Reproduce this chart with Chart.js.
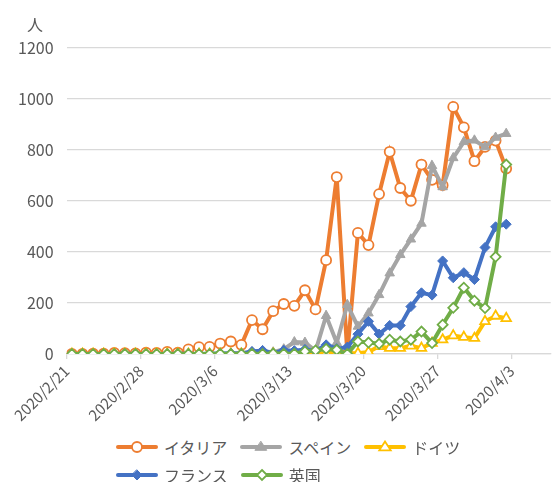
<!DOCTYPE html>
<html lang="ja">
<head>
<meta charset="utf-8">
<title>新型コロナウイルス 国別の新規死亡者数</title>
<script src="https://cdn.jsdelivr.net/npm/chart.js@4/dist/chart.umd.min.js"></script>
<style>
  html, body { margin: 0; padding: 0; background: #ffffff; }
  #wrap { position: relative; width: 558px; height: 482px; overflow: hidden; }
  #plot { position: absolute; left: 0; top: 0; width: 558px; height: 430px; }
  #legend {
    position: absolute; left: 116px; top: 433px; width: 380px;
    font-family: "Noto Sans CJK JP", "Noto Sans", sans-serif; font-size: 16px; color: #595959;
  }
  #legend .rows { display: flex; flex-wrap: wrap; width: 360px; }
  #legend .item { display: flex; align-items: center; height: 28px; margin-right: 13px; }
  #legend canvas { display: block; margin-right: 6px; }
</style>
</head>
<body>
<div id="wrap">
  <div id="plot"><canvas id="chart"></canvas></div>
  <div id="legend"><div class="rows"></div></div>
</div>
<script>
// Dates of each daily report (one cell per day on the date axis)
const days = [
  '2020/2/21','2020/2/22','2020/2/23','2020/2/24','2020/2/25','2020/2/26','2020/2/27',
  '2020/2/28','2020/2/29','2020/3/1','2020/3/2','2020/3/3','2020/3/4','2020/3/5',
  '2020/3/6','2020/3/7','2020/3/8','2020/3/9','2020/3/10','2020/3/11','2020/3/12',
  '2020/3/13','2020/3/14','2020/3/15','2020/3/16','2020/3/17','2020/3/18','2020/3/19',
  '2020/3/20','2020/3/21','2020/3/22','2020/3/23','2020/3/24','2020/3/25','2020/3/26',
  '2020/3/27','2020/3/28','2020/3/29','2020/3/30','2020/3/31','2020/4/1','2020/4/2'
];

// Weekly labels on the date axis
const weekLabels = ['2020/2/21','2020/2/28','2020/3/6','2020/3/13','2020/3/20','2020/3/27','2020/4/3'];

// New deaths per day (人)
const italy = [
  0, 0, 1, 1, 4, 3, 2, 5, 4, 8, 5, 18, 27, 28, 41, 49, 36, 133, 97, 168, 196,
  189, 250, 175, 368, 694, 0, 475, 427, 627, 793, 651, 601, 743, 683, 662, 969,
  889, 756, 812, 837, 727
];
const spain = [
  0, 0, 0, 0, 0, 0, 0, 0, 0, 0, 0, 0, 0, 1, 1, 2, 5, 7, 11, 7, 19,
  47, 45, 12, 150, 44, 193, 108, 160, 232, 317, 389, 450, 512, 738, 655, 769,
  832, 838, 812, 849, 864
];
const germany = [
  0, 0, 0, 0, 0, 0, 0, 0, 0, 0, 0, 0, 0, 0, 0, 0, 0, 0, 2, 0, 1,
  3, 4, 1, 4, 7, 3, 3, 8, 30, 23, 23, 32, 23, 43, 56, 72,
  66, 62, 128, 149, 140
];
const france = [
  0, 0, 0, 0, 0, 1, 0, 0, 0, 0, 1, 1, 0, 1, 2, 3, 1, 10, 14, 3, 15,
  13, 18, 12, 36, 21, 27, 78, 128, 78, 112, 112, 186, 240, 231, 365, 299,
  319, 292, 418, 499, 509
];
const uk = [
  0, 0, 0, 0, 0, 0, 0, 0, 0, 0, 0, 0, 0, 0, 1, 0, 0, 1, 0, 2, 1,
  1, 10, 14, 20, 16, 0, 49, 45, 40, 56, 49, 56, 88, 43, 115, 181,
  260, 209, 180, 381, 743
];

// Value axis ticks
const yTicks = [0, 200, 400, 600, 800, 1000, 1200];

const FONT = '"Noto Sans CJK JP", "Noto Sans", sans-serif';
const TEXT = '#595959';
const GRID = '#d9d9d9';

// Each day is plotted in the middle of its one-day cell on the date axis
const toPoints = arr => arr.map((v, i) => ({ x: i + 0.5, y: v, day: days[i] }));

const seriesDefs = [
  { label: 'イタリア', data: italy,   color: '#ED7D31', style: 'circle',   fill: '#ffffff', radius: 5,   bw: 1.8, order: 4 },
  { label: 'スペイン', data: spain,   color: '#A5A5A5', style: 'triangle', fill: '#A5A5A5', radius: 5.5, bw: 1,   order: 3 },
  { label: 'ドイツ',   data: germany, color: '#FFC000', style: 'triangle', fill: '#ffffff', radius: 5.5, bw: 1.8, order: 2 },
  { label: 'フランス', data: france,  color: '#4472C4', style: 'rectRot',  fill: '#4472C4', radius: 5,   bw: 1,   order: 1 },
  { label: '英国',     data: uk,      color: '#70AD47', style: 'rectRot',  fill: '#ffffff', radius: 5,   bw: 1.8, order: 0 }
];

const datasets = seriesDefs.map(s => ({
  label: s.label,
  data: toPoints(s.data),
  borderColor: s.color,
  backgroundColor: s.color,
  borderWidth: 4,
  tension: 0,
  pointStyle: s.style,
  pointRadius: s.radius,
  pointHoverRadius: s.radius,
  pointBackgroundColor: s.fill,
  pointBorderColor: s.color,
  pointBorderWidth: s.bw,
  order: s.order
}));

// Unit label "人" above the value axis
const unitLabel = {
  id: 'unitLabel',
  afterDraw(chart) {
    const ctx = chart.ctx;
    ctx.save();
    ctx.font = '16px ' + FONT;
    ctx.fillStyle = TEXT;
    ctx.textAlign = 'center';
    ctx.textBaseline = 'middle';
    ctx.fillText('人', 35, chart.chartArea.top - 23);
    ctx.restore();
  }
};

new Chart(document.getElementById('chart'), {
  type: 'line',
  data: { datasets },
  options: {
    responsive: true,
    maintainAspectRatio: false,
    animation: false,
    layout: { padding: { top: 48, right: 1, left: 0, bottom: 0 } },
    plugins: { legend: { display: false }, tooltip: { enabled: false } },
    scales: {
      x: {
        type: 'linear',
        min: 0,
        max: 45.7,
        afterBuildTicks(scale) {
          scale.ticks = weekLabels.map((_, k) => ({ value: k * 7 }));
        },
        afterFit(scale) {
          // fixed band for the slanted date labels
          scale.height = 76;
          scale.paddingLeft = 0;
          scale.paddingRight = 0;
        },
        ticks: {
          autoSkip: false,
          maxRotation: 45,
          minRotation: 45,
          padding: 3,
          color: TEXT,
          font: { family: FONT, size: 15 },
          callback: (value, index) => weekLabels[index]
        },
        grid: { drawOnChartArea: false, drawTicks: true, tickLength: 5, color: GRID, lineWidth: 1.3 },
        border: { display: true, color: GRID, width: 1.3 }
      },
      y: {
        min: 0,
        max: 1200,
        afterBuildTicks(scale) {
          scale.ticks = yTicks.map(v => ({ value: v }));
        },
        afterFit(scale) {
          scale.width = 66.6;
        },
        ticks: {
          padding: 13,
          color: TEXT,
          font: { family: FONT, size: 16 },
          callback: value => String(value)
        },
        grid: { color: GRID, lineWidth: 1.3, drawTicks: false },
        border: { display: false }
      }
    }
  },
  plugins: [unitLabel]
});

// Legend: line sample with marker, then series name
function drawMarker(ctx, style, x, y, r, fill, stroke, bw) {
  ctx.beginPath();
  if (style === 'circle') {
    ctx.arc(x, y, r, 0, Math.PI * 2);
  } else if (style === 'triangle') {
    ctx.moveTo(x, y - r);
    ctx.lineTo(x + r * 1.04, y + r * 0.6);
    ctx.lineTo(x - r * 1.04, y + r * 0.6);
    ctx.closePath();
  } else {
    ctx.moveTo(x, y - r);
    ctx.lineTo(x + r, y);
    ctx.lineTo(x, y + r);
    ctx.lineTo(x - r, y);
    ctx.closePath();
  }
  ctx.fillStyle = fill;
  ctx.fill();
  ctx.lineWidth = bw;
  ctx.strokeStyle = stroke;
  ctx.stroke();
}

const rows = document.querySelector('#legend .rows');
seriesDefs.forEach(s => {
  const item = document.createElement('div');
  item.className = 'item';
  const c = document.createElement('canvas');
  c.width = 42; c.height = 14;
  const ctx = c.getContext('2d');
  ctx.strokeStyle = s.color;
  ctx.lineWidth = 4;
  ctx.lineCap = 'round';
  ctx.beginPath();
  ctx.moveTo(2, 7);
  ctx.lineTo(40, 7);
  ctx.stroke();
  drawMarker(ctx, s.style, 21, 7, s.radius, s.fill, s.color, s.bw);
  const t = document.createElement('span');
  t.textContent = s.label;
  item.appendChild(c);
  item.appendChild(t);
  rows.appendChild(item);
});
</script>
</body>
</html>
